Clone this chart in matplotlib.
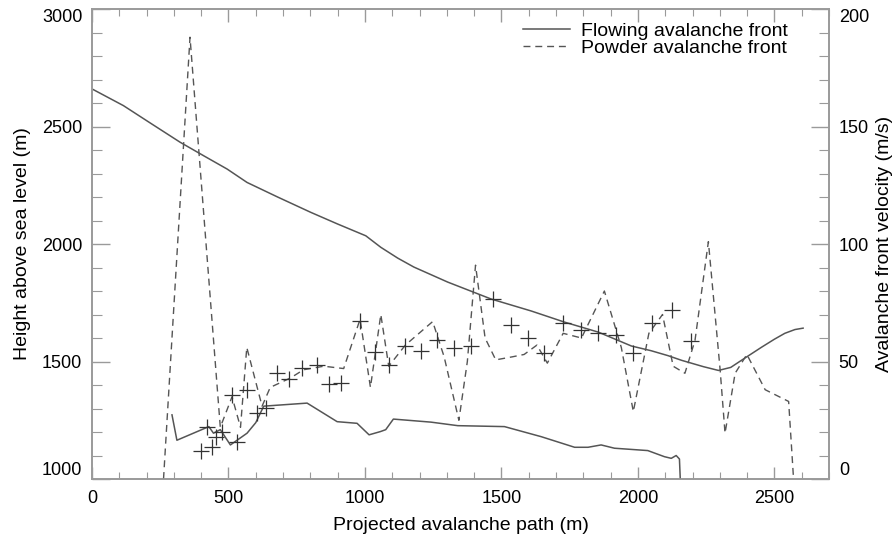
import numpy as np
import matplotlib
matplotlib.use('Agg')
import matplotlib.pyplot as plt
from matplotlib.ticker import MultipleLocator

plt.rcParams['font.family'] = ['Liberation Sans', 'DejaVu Sans']

# terrain profile (left axis, m a.s.l.)
terrain_x = [0, 115, 220, 323, 410, 495, 568, 680, 801, 900, 1003, 1058, 1120, 1179, 1303,
             1462, 1609, 1730, 1855, 1976, 2048, 2110, 2160, 2240, 2295, 2340, 2379, 2453,
             2500, 2538, 2575, 2605]
terrain_h = [2660, 2589, 2510, 2433, 2375, 2319, 2262, 2200, 2135, 2085, 2035, 1986, 1940,
             1902, 1838, 1766, 1715, 1668, 1625, 1566, 1546, 1525, 1505, 1478, 1462, 1475,
             1505, 1561, 1595, 1620, 1636, 1642]

# flowing avalanche front velocity (right axis, m/s)
flow_x = [293, 311, 428, 445, 470, 507, 568, 600, 629, 788, 898, 971, 1015, 1057, 1076,
          1104, 1242, 1340, 1511, 1646, 1768, 1817, 1865, 1914, 2036, 2097, 2122, 2140,
          2152, 2155]
flow_v = [27.3, 16.5, 22.3, 19.5, 21, 14.5, 19.5, 24, 31, 32.3, 24.4, 23.7, 18.8, 20.2, 21,
          25.5, 24.2, 22.7, 22.3, 18, 13.5, 13.5, 14.5, 13.1, 12.1, 9.5, 8.8, 10,
          8.5, 0]

# powder avalanche front velocity (right axis, m/s)
powder_x = [262, 359, 470, 513, 544, 567, 623, 653, 727, 775, 849, 922, 982, 1020, 1058,
            1087, 1148, 1248, 1290, 1344, 1375, 1405, 1440, 1479, 1540, 1583, 1630, 1668,
            1726, 1793, 1877, 1939, 1983, 2040, 2090, 2129, 2172, 2209, 2258, 2301, 2319,
            2356, 2399, 2466, 2552, 2570]
powder_v = [0, 188, 22, 35, 22, 56, 31, 39, 43, 46.5, 48, 47, 68, 39, 70,
            48, 57, 67, 52, 25, 50, 91, 60, 50.7, 52, 53, 57, 49.3,
            62, 60, 80, 56, 28.7, 62, 70, 48, 45, 59, 101, 46.5, 19.5,
            45, 53, 38, 33, 0]

# measured front positions (+)
meas_x = [399, 423, 438, 456, 478, 512, 530, 568, 605, 636, 677, 720, 769, 824, 868, 911,
          982, 1038, 1087, 1148, 1204, 1265, 1327, 1388, 1468, 1534, 1596, 1656, 1726,
          1793, 1854, 1921, 1983, 2050, 2123, 2196]
meas_v = [12.1, 22.3, 13.8, 18, 20.2, 35.8, 15.9, 38, 28, 30.1, 45, 42.5, 47.2, 48.6, 40.5,
          40.8, 67.1, 53.9, 48.6, 56.4, 54.3, 59.3, 55.7, 56.4, 76.6, 65.7, 60, 53.6, 66.4,
          63.5, 62.1, 61.4, 53.6, 66.4, 71.8, 58.6]

lc = '#555555'
sc = '#9a9a9a'

fig = plt.figure(figsize=(8.95, 5.47), dpi=100)
ax = fig.add_axes([0.1028, 0.1243, 0.8235, 0.8592])
ax2 = ax.twinx()

ax.plot(terrain_x, terrain_h, color=lc, lw=1.1)
l1, = ax2.plot(flow_x, flow_v, color=lc, lw=1.1)
l2, = ax2.plot(powder_x, powder_v, color=lc, lw=1.0, ls=(0, (5, 3.5)))
ax2.plot(meas_x, meas_v, ls='none', marker='+', ms=11, mew=0.9, color='#333333')

ax.set_xlim(0, 2700)
ax.set_ylim(1000, 3000)
ax2.set_ylim(0, 200)

ax.xaxis.set_major_locator(MultipleLocator(500))
ax.xaxis.set_minor_locator(MultipleLocator(100))
ax.yaxis.set_major_locator(MultipleLocator(500))
ax.yaxis.set_minor_locator(MultipleLocator(100))
ax2.yaxis.set_major_locator(MultipleLocator(50))
ax2.yaxis.set_minor_locator(MultipleLocator(10))

ax.tick_params(axis='x', which='both', direction='in', top=True, color=sc, labelsize=13, pad=8)
ax.tick_params(axis='x', which='major', length=9, width=1)
ax.tick_params(axis='x', which='minor', length=5, width=0.8)
ax.tick_params(axis='y', which='both', direction='in', color=sc, labelsize=13, pad=7)
ax.tick_params(axis='y', which='major', length=13, width=1)
ax.tick_params(axis='y', which='minor', length=7, width=0.8)
ax2.tick_params(axis='y', which='both', direction='in', color=sc, labelsize=13, pad=7)
ax2.tick_params(axis='y', which='major', length=13, width=1)
ax2.tick_params(axis='y', which='minor', length=7, width=0.8)

for a in (ax, ax2):
    for s in a.spines.values():
        s.set_color(sc)
        s.set_linewidth(1.2)

ax.set_xlabel('Projected avalanche path (m)', fontsize=14, labelpad=7)
ax.set_ylabel('Height above sea level (m)', fontsize=14, labelpad=8)
ax2.set_ylabel('Avalanche front velocity (m/s)', fontsize=14, labelpad=5)

ax2.legend([l1, l2], ['Flowing avalanche front', 'Powder avalanche front'],
           loc='upper right', bbox_to_anchor=(0.958, 0.993), borderaxespad=0.1,
           frameon=False, fontsize=14, handlelength=2.4, labelspacing=0.0,
           handletextpad=0.6)

# end labels sit inside the frame, as in the original
fig.canvas.draw()
for a in (ax, ax2):
    labels = a.get_yticklabels()
    lo, hi = a.get_ylim()
    for t in labels:
        y = t.get_position()[1]
        if abs(y - hi) < 1e-6:
            t.set_va('top')
        elif abs(y - lo) < 1e-6:
            t.set_va('bottom')

fig.savefig('out.png', dpi=100)
